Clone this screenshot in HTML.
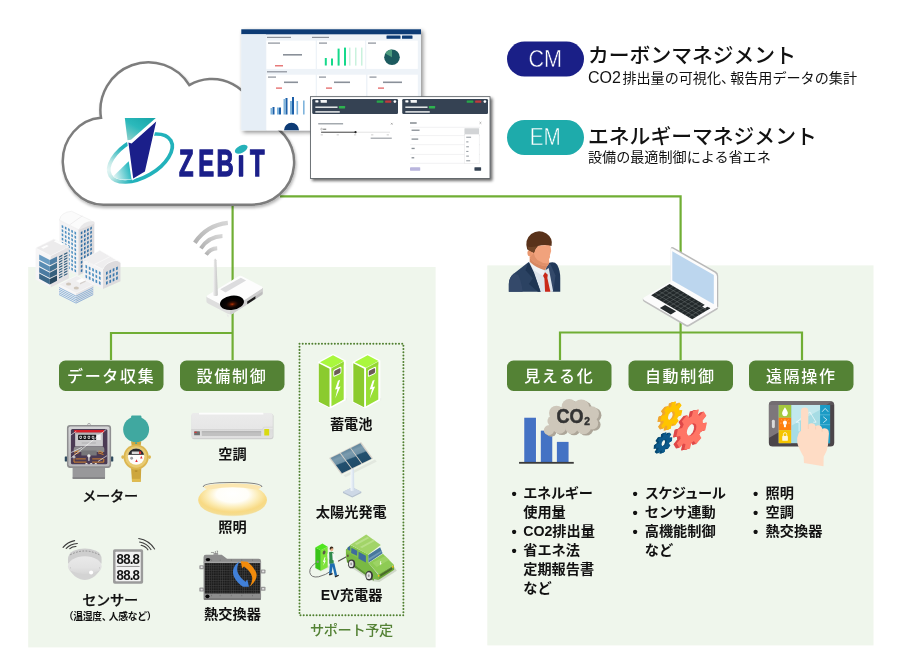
<!DOCTYPE html>
<html lang="ja">
<head>
<meta charset="utf-8">
<title>ZEBiT</title>
<style>
html,body{margin:0;padding:0;background:#fff;}
body{width:900px;height:662px;overflow:hidden;position:relative;font-family:"Liberation Sans","Noto Sans CJK JP",sans-serif;}
svg{position:absolute;left:0;top:0;display:block;will-change:transform;}
text{font-family:"Liberation Sans","Noto Sans CJK JP",sans-serif;}
.lbl{font-size:16px;font-weight:500;fill:#fff;letter-spacing:1.7px;text-anchor:middle;}
.cap{font-size:14.2px;font-weight:bold;fill:#111;text-anchor:middle;}
.li{font-size:14.2px;font-weight:bold;fill:#111;}
.ttl{font-size:20.8px;fill:#111;font-weight:500;}
.sub{font-size:14.1px;fill:#111;}
.bdg{font-size:24.8px;fill:#fff;text-anchor:middle;}
</style>
</head>
<body>
<svg width="900" height="662" viewBox="0 0 900 662">
<defs>
<filter id="sh" x="-10%" y="-10%" width="125%" height="130%"><feGaussianBlur in="SourceAlpha" stdDeviation="2"/><feOffset dx="2" dy="2"/><feComponentTransfer><feFuncA type="linear" slope="0.45"/></feComponentTransfer><feMerge><feMergeNode/><feMergeNode in="SourceGraphic"/></feMerge></filter>
<filter id="sh2" x="-10%" y="-15%" width="125%" height="140%"><feGaussianBlur in="SourceAlpha" stdDeviation="1.6"/><feOffset dx="1.5" dy="2"/><feComponentTransfer><feFuncA type="linear" slope="0.6"/></feComponentTransfer><feMerge><feMergeNode/><feMergeNode in="SourceGraphic"/></feMerge></filter>
<filter id="sh3" x="-10%" y="-10%" width="125%" height="130%"><feGaussianBlur in="SourceAlpha" stdDeviation="1.6"/><feOffset dx="1.2" dy="1.6"/><feComponentTransfer><feFuncA type="linear" slope="0.3"/></feComponentTransfer><feMerge><feMergeNode/><feMergeNode in="SourceGraphic"/></feMerge></filter>
</defs>
<!-- panels -->
<rect id="panelL" x="28.2" y="267" width="407.400" height="380.400" fill="#eff6ec"/>
<rect id="panelR" x="487.3" y="265.400" width="386.200" height="380" fill="#eff6ec"/>
<!-- connectors -->
<g id="lines" fill="none" stroke="#70ae34" stroke-width="2.2">
<path d="M232.6 205V360"/>
<path d="M111 360V333H232.600"/>
<path d="M280 196.400H680.600V360"/>
<path d="M560 360V332.500H802V360"/>
</g>
<!-- cloud -->
<g id="cloud" filter="url(#sh3)">
<path d="M103.5 204.700 A41 43.500 0 0 1 101 117.800 A48 48 0 0 1 189.300 85.150 A45 45 0 0 1 256.830 120.050 A42.500 42.500 0 0 1 250 204.700 Z" fill="#fff" stroke="#7d7d7d" stroke-width="2.500"/>
</g>
<!-- logo -->
<g id="logo">
<defs>
<radialGradient id="ring" gradientUnits="userSpaceOnUse" cx="105.9" cy="151.9" r="26"><stop offset="0" stop-color="#e6f6f5"/><stop offset="0.35" stop-color="#bfe8e6"/><stop offset="0.75" stop-color="#5cc6ca"/><stop offset="1" stop-color="#22b2bb"/></radialGradient>
<linearGradient id="tealTop" x1="0.9" y1="0" x2="0.1" y2="1"><stop offset="0" stop-color="#17a5a8"/><stop offset="0.5" stop-color="#2bb9bb"/><stop offset="1" stop-color="#8fd0cb"/></linearGradient>
<linearGradient id="tealBot" x1="1" y1="0.5" x2="0" y2="0.8"><stop offset="0" stop-color="#1fb5bd"/><stop offset="1" stop-color="#e9f7f6"/></linearGradient>
</defs>
<g transform="rotate(-30 140.5 158)"><ellipse cx="140.5" cy="158" rx="35" ry="19" fill="none" stroke="url(#ring)" stroke-width="3.700"/></g>
<path d="M113 176.400 L128.700 161.300 L131.500 179 Q120 181 113 176.400Z" fill="url(#tealBot)"/>
<path d="M124.3 117.400H157V121L145.500 172L133 179.300L127.800 143L126.800 140.500Z" fill="#fff"/>
<path d="M124.8 117.900H155.800L131 139.800L127.500 140.300Z" fill="url(#tealTop)" stroke="#fff" stroke-width="1" paint-order="stroke"/>
<path d="M156.2 121.500L144.900 171.600L133.200 178.600L128.400 142.600L131.600 143.400Z" fill="#1b1f8a" stroke="#fff" stroke-width="2.200" stroke-linejoin="miter" paint-order="stroke"/>
<text id="zebit" transform="translate(0 175.700) scale(0.63 1)" font-size="37.800" font-weight="bold" fill="#1b1f8a" stroke="#1b1f8a" stroke-width="1.100" vector-effect="non-scaling-stroke" x="284 314.500 343.800 377.200 396.800" y="0">ZEBiT</text>
<rect x="237" y="146" width="8" height="8.200" fill="#fff"/>
<rect x="238.800" y="155.500" width="4.400" height="20.500" fill="#1b1f8a"/>
<ellipse cx="241.2" cy="149.200" rx="6.900" ry="3.700" fill="#25b1b9" transform="rotate(-27 241.200 149.200)"/>
</g>
<!-- dashboards -->
<g id="dash1" filter="url(#sh)">
<rect x="241.3" y="29.300" width="179.700" height="101" fill="#eef3f8"/>
<rect x="241.3" y="29.300" width="179.700" height="5" fill="#0b3a75"/>
<rect x="241.3" y="34.300" width="24.600" height="96" fill="#e6eef6"/>
<rect x="266.4" y="40.600" width="49.300" height="28.300" fill="#fff"/>
<rect x="317" y="40.600" width="48" height="28.300" fill="#fff"/>
<rect x="366.3" y="40.600" width="51.500" height="28.300" fill="#fff"/>
<rect x="266.4" y="74.700" width="49.300" height="55.600" fill="#fff"/>
<rect x="317" y="74.700" width="49" height="55.600" fill="#fff"/>
<rect x="367.5" y="74.700" width="50.300" height="55.600" fill="#fff"/>
<g fill="#17d98b"><rect x="324.8" y="58" width="2" height="7.500"/><rect x="331" y="58.500" width="2" height="7"/><rect x="337.6" y="48.600" width="2" height="17"/><rect x="344" y="47.600" width="2" height="18"/></g>
<g fill="#c9f2dd"><rect x="349" y="47.600" width="1.500" height="18"/><rect x="355" y="47.600" width="1.500" height="18"/><rect x="361" y="47.600" width="1.500" height="18"/></g>
<circle cx="392" cy="57.200" r="7.800" fill="#1e5a5e"/>
<path d="M392 57.200V49.400A7.800 7.800 0 0 0 385.200 53.400Z" fill="#4e9c7f"/>
<g fill="#1f5fa8"><rect x="272.5" y="107" width="2" height="7.500"/><rect x="279" y="107.500" width="2" height="7"/><rect x="285.5" y="98" width="2" height="16.500"/><rect x="292" y="97" width="2" height="17.500"/></g>
<g fill="#7fb4dc"><rect x="270.5" y="108" width="2" height="6.500"/><rect x="277" y="107.500" width="2" height="7"/><rect x="283.5" y="99" width="2" height="15.500"/><rect x="290" y="101" width="2" height="13.500"/><rect x="296.5" y="101" width="1.600" height="13.500"/><rect x="303" y="100.500" width="1.600" height="14"/></g>
<g fill="#8a9099"><rect x="283" y="54" width="19" height="1.600"/><rect x="268" y="42.500" width="12" height="1.200"/><rect x="268" y="76.500" width="8" height="1.200"/><rect x="284" y="81.500" width="14" height="1.600"/><rect x="267" y="71.200" width="20" height="1.200"/><rect x="267" y="36.800" width="24" height="1.200"/><rect x="312" y="36.800" width="17" height="1.200"/><rect x="319" y="42.500" width="8" height="1.200"/><rect x="368" y="42.500" width="8" height="1.200"/><rect x="334" y="81.500" width="16" height="1.600"/><rect x="383" y="81.500" width="19" height="1.600"/><rect x="319" y="76.500" width="7" height="1.200"/><rect x="369.5" y="76.500" width="7" height="1.200"/></g>
<g fill="#e25a5a"><rect x="275" y="65.200" width="8" height="1.200"/><rect x="276" y="87.500" width="6" height="1.200"/><rect x="326" y="87.500" width="6" height="1.200"/><rect x="378" y="87.500" width="6" height="1.200"/></g>
<g fill="#0b3a75"><rect x="386.5" y="35.600" width="14" height="3.200" rx="0.500"/><rect x="402" y="35.600" width="10.500" height="3.200" rx="0.500"/><path d="M284 130.300a7.500 7.500 0 0 1 15 0Z"/></g>
</g>

<!-- label boxes -->
<g id="labels" fill="#548235">
<rect x="59" y="360.5" width="104.500" height="30.500" rx="6.500"/>
<rect x="180" y="360.5" width="104.500" height="30.500" rx="6.500"/>
<rect x="507" y="360.5" width="104.500" height="30.500" rx="6.500"/>
<rect x="628.500" y="360.500" width="104.500" height="30.500" rx="6.500"/>
<rect x="749" y="360.5" width="104.500" height="30.500" rx="6.500"/>
</g>
<text class="lbl" x="111.200" y="382">データ収集</text>
<text class="lbl" x="232" y="382">設備制御</text>
<text class="lbl" x="559.300" y="382">見える化</text>
<text class="lbl" x="680.300" y="382">自動制御</text>
<text class="lbl" x="801.300" y="382">遠隔操作</text>
<!-- dotted box -->
<rect id="dotbox" x="299.5" y="343.800" width="103.900" height="271.500" fill="none" stroke="#4f7f2f" stroke-width="2" stroke-linecap="round" stroke-dasharray="0.010 3.200"/>
<!-- captions -->
<g id="captions">
<text class="cap" x="110" y="500.500" style="font-weight:500" letter-spacing="-0.3" stroke="#111" stroke-width="0.250">メーター</text>
<text class="cap" x="110" y="604.800" style="font-weight:500" letter-spacing="-0.3" stroke="#111" stroke-width="0.250">センサー</text>
<text class="cap" x="110" y="619.600" style="font-size:9.800px;font-weight:bold" letter-spacing="-0.25">（温湿度<tspan letter-spacing="-3">、</tspan>人感など）</text>
<text class="cap" x="232.4" y="458.5">空調</text>
<text class="cap" x="232.4" y="532.0">照明</text>
<text class="cap" x="232.5" y="618.7">熱交換器</text>
<text class="cap" x="351.2" y="428.5">蓄電池</text>
<text class="cap" x="351.3" y="517.2">太陽光発電</text>
<text class="cap" x="351.6" y="600.2">EV充電器</text>
<text class="cap" x="351.4" y="634.800" style="fill:#548235;font-weight:500" letter-spacing="-0.4">サポート予定</text>
</g>
<g id="lists">
<text class="li" y="497.800"><tspan x="511.4" dy="0.8" font-size="15">•</tspan><tspan dy="-0.8" x="523.2" letter-spacing="-0.3">エネルギー</tspan></text>
<text class="li" x="523.2" y="516.900">使用量</text>
<text class="li" y="536"><tspan x="511.4" dy="0.8" font-size="15">•</tspan><tspan dy="-0.8" x="523.2">CO2排出量</tspan></text>
<text class="li" y="555.100"><tspan x="511.4" dy="0.8" font-size="15">•</tspan><tspan dy="-0.8" x="523.2">省エネ法</tspan></text>
<text class="li" x="523.2" y="574.200">定期報告書</text>
<text class="li" x="523.2" y="593.300">など</text>
<text class="li" y="497.800"><tspan x="632.6" dy="0.8" font-size="15">•</tspan><tspan dy="-0.8" x="644.7" letter-spacing="-0.6">スケジュール</tspan></text>
<text class="li" y="516.900"><tspan x="632.6" dy="0.8" font-size="15">•</tspan><tspan dy="-0.8" x="644.7">センサ連動</tspan></text>
<text class="li" y="536"><tspan x="632.6" dy="0.8" font-size="15">•</tspan><tspan dy="-0.8" x="644.7">高機能制御</tspan></text>
<text class="li" x="644.7" y="555.100">など</text>
<text class="li" y="497.800"><tspan x="753.0" dy="0.8" font-size="15">•</tspan><tspan dy="-0.8" x="765.6">照明</tspan></text>
<text class="li" y="516.900"><tspan x="753.0" dy="0.8" font-size="15">•</tspan><tspan dy="-0.8" x="765.6">空調</tspan></text>
<text class="li" y="536"><tspan x="753.0" dy="0.8" font-size="15">•</tspan><tspan dy="-0.8" x="765.6">熱交換器</tspan></text>
</g>
<!-- badges -->
<rect x="507" y="41.5" width="77" height="35" rx="17.5" fill="#1a1f87"/>
<text class="bdg" x="545.300" y="66.700" textLength="33.600" lengthAdjust="spacingAndGlyphs" stroke="#1a1f87" stroke-width="0.500">CM</text>
<rect x="507" y="120" width="77" height="35" rx="17.5" fill="#1eabab"/>
<text class="bdg" x="545.300" y="145.300" textLength="31" lengthAdjust="spacingAndGlyphs" stroke="#1eabab" stroke-width="0.500">EM</text>
<text class="ttl" x="588" y="62.5">カーボンマネジメント</text>
<text class="sub" x="588" y="82.5"><tspan font-size="16">CO2</tspan><tspan dx="1.5">排</tspan>出量の可視化<tspan letter-spacing="-5">、</tspan>報告用データの集計</text>
<text class="ttl" x="588" y="144">エネルギーマネジメント</text>
<text class="sub" x="588" y="161.5">設備の最適制御による省エネ</text>
<!-- 05_dash2 -->
<g id="dash2" filter="url(#sh2)">
<rect x="310.44" y="96.67" width="179.56" height="81.78" rx="0.00" fill="#ffffff" stroke="#50555a" stroke-width="0.8"/>
<rect x="312.22" y="98.89" width="85.78" height="15.11" rx="1.33" fill="#344352" />
<rect x="315.33" y="100.22" width="3.11" height="2.22" rx="0.44" fill="#ffffff" />
<rect x="320.67" y="100.00" width="6.22" height="2.67" rx="0.22" fill="#ffffff" fill-opacity="0.95"/>
<rect x="315.33" y="106.44" width="22.22" height="1.56" rx="0.00" fill="#ffffff" fill-opacity="0.85"/>
<rect x="338.89" y="106.00" width="6.22" height="2.44" rx="0.44" fill="#2fb24f" />
<rect x="315.33" y="111.11" width="24.44" height="1.56" rx="0.00" fill="#ffffff" fill-opacity="0.85"/>
<rect x="376.67" y="100.44" width="6.67" height="2.22" rx="0.44" fill="#27a84a" />
<rect x="385.11" y="100.44" width="6.22" height="2.22" rx="0.44" fill="#c2383c" />
<ellipse cx="394.89" cy="101.56" rx="1.33" ry="1.33" fill="#ffffff" />
<rect x="402.22" y="98.89" width="85.78" height="15.11" rx="1.33" fill="#344352" />
<rect x="405.33" y="100.22" width="3.11" height="2.22" rx="0.44" fill="#ffffff" />
<rect x="410.67" y="100.00" width="6.22" height="2.67" rx="0.22" fill="#ffffff" fill-opacity="0.95"/>
<rect x="405.33" y="106.44" width="22.22" height="1.56" rx="0.00" fill="#ffffff" fill-opacity="0.85"/>
<rect x="428.89" y="106.00" width="6.22" height="2.44" rx="0.44" fill="#2fb24f" />
<rect x="405.33" y="111.11" width="24.44" height="1.56" rx="0.00" fill="#ffffff" fill-opacity="0.85"/>
<rect x="466.67" y="100.44" width="6.67" height="2.22" rx="0.44" fill="#27a84a" />
<rect x="475.11" y="100.44" width="6.22" height="2.22" rx="0.44" fill="#c2383c" />
<ellipse cx="484.89" cy="101.56" rx="1.33" ry="1.33" fill="#ffffff" />
<rect x="318.22" y="123.11" width="24.89" height="1.33" rx="0.00" fill="#9aa0a6" />
<path d="M 390.89 122.89 L 392.67 124.67 M 392.67 122.89 L 390.89 124.67" fill="none" stroke="#555" stroke-width="0.4"/>
<path d="M 321.11 132.22 H 390" fill="none" stroke="#b8b8b8" stroke-width="0.4"/>
<path d="M 321.11 132.22 H 355.56" fill="none" stroke="#222" stroke-width="0.8"/>
<ellipse cx="355.56" cy="132.22" rx="1.11" ry="1.11" fill="#222" />
<ellipse cx="321.56" cy="129.11" rx="0.89" ry="0.89" fill="none" stroke="#444" stroke-width="0.3"/>
<rect x="323.11" y="128.67" width="3.11" height="1.11" rx="0.00" fill="#777" />
<rect x="320.67" y="134.44" width="2.22" height="0.89" rx="0.00" fill="#c4c4c4" />
<rect x="336.67" y="134.44" width="2.22" height="0.89" rx="0.00" fill="#c4c4c4" />
<rect x="354.00" y="134.44" width="2.22" height="0.89" rx="0.00" fill="#c4c4c4" />
<rect x="371.11" y="134.44" width="2.22" height="0.89" rx="0.00" fill="#c4c4c4" />
<rect x="386.67" y="134.44" width="2.22" height="0.89" rx="0.00" fill="#c4c4c4" />
<rect x="370.67" y="137.56" width="21.11" height="1.33" rx="0.00" fill="#a8acb0" />
<rect x="410.00" y="122.22" width="6.67" height="1.56" rx="0.00" fill="#8a9096" />
<path d="M 479.56 122 L 481.33 123.78 M 481.33 122 L 479.56 123.78" fill="none" stroke="#555" stroke-width="0.4"/>
<path d="M 410 135.56 H 480 M 410 144.67 H 480 M 410 154.44 H 480 M 410 163.33 H 480 M 410 127.33 H 480" fill="none" stroke="#d8dadd" stroke-width="0.35"/>
<rect x="411.56" y="129.56" width="8.00" height="1.33" rx="0.00" fill="#8a9096" />
<rect x="411.56" y="138.44" width="6.67" height="1.33" rx="0.00" fill="#8a9096" />
<rect x="411.56" y="147.78" width="3.11" height="1.33" rx="0.00" fill="#8a9096" />
<rect x="411.56" y="157.11" width="2.67" height="1.33" rx="0.00" fill="#8a9096" />
<rect x="464.44" y="128.22" width="14.67" height="5.78" rx="0.44" fill="#d2d4d6" />
<rect x="464.44" y="134.44" width="14.67" height="29.33" rx="0.00" fill="#ffffff" stroke="#cfd2d5" stroke-width="0.3"/>
<rect x="466.22" y="136.67" width="4.89" height="1.11" rx="0.00" fill="#9aa0a6" />
<rect x="466.22" y="141.33" width="2.22" height="1.11" rx="0.00" fill="#9aa0a6" />
<rect x="466.22" y="146.22" width="2.67" height="1.11" rx="0.00" fill="#9aa0a6" />
<rect x="466.22" y="150.89" width="2.22" height="1.11" rx="0.00" fill="#9aa0a6" />
<rect x="466.22" y="155.56" width="2.67" height="1.11" rx="0.00" fill="#9aa0a6" />
<rect x="466.22" y="160.22" width="4.00" height="1.11" rx="0.00" fill="#9aa0a6" />
<rect x="410.00" y="167.33" width="10.22" height="3.33" rx="0.44" fill="#b9b5dd" />
<rect x="474.44" y="167.33" width="6.67" height="3.33" rx="0.44" fill="#344352" />
</g>
<!-- 10_buildings -->
<g id="buildings">
<polygon points="59.4,220.1 78.4,229.6 78.4,275.6 59.4,266.9" fill="#f4f3f4" />
<polygon points="78.4,229.6 94.3,221.7 94.3,267.7 78.4,275.6" fill="#dcdadc" />
<path d="M59.4 220.1 Q61.0 212.1 71.6 211.3 L90.3 220.1 L94.3 223.7 Q93.5 220.9 78.4 229.6 Z" fill="#fbfbfb" stroke="#e4e2e4" stroke-width="0.4"/>
<path d="M78.4 230.1 Q82.4 220.9 93.5 220.9 L94.3 223.7 Z" fill="#e9e8e9"/>
<path d="M69.7 224.8 L82.4 215.8" stroke="#e0dfe0" stroke-width="0.5" fill="none"/>
<path d="M61.7 224.9L63.3 225.7L63.3 228.2L61.7 227.4ZM64.9 226.5L66.5 227.3L66.5 229.8L64.9 229.0ZM68.1 228.1L69.7 228.9L69.7 231.5L68.1 230.6ZM71.3 229.7L72.9 230.5L72.9 233.1L71.3 232.3ZM74.5 231.3L76.1 232.2L76.1 234.7L74.5 233.9ZM61.7 229.1L63.3 229.9L63.3 232.4L61.7 231.6ZM64.9 230.7L66.5 231.5L66.5 234.0L64.9 233.2ZM68.1 232.3L69.7 233.1L69.7 235.6L68.1 234.8ZM71.3 233.9L72.9 234.7L72.9 237.2L71.3 236.4ZM74.5 235.5L76.1 236.3L76.1 238.9L74.5 238.1ZM61.7 233.3L63.3 234.1L63.3 236.6L61.7 235.8ZM64.9 234.9L66.5 235.7L66.5 238.2L64.9 237.4ZM68.1 236.5L69.7 237.3L69.7 239.8L68.1 239.0ZM71.3 238.1L72.9 238.9L72.9 241.4L71.3 240.6ZM74.5 239.7L76.1 240.5L76.1 243.0L74.5 242.2ZM61.7 237.5L63.3 238.3L63.3 240.8L61.7 240.0ZM64.9 239.1L66.5 239.9L66.5 242.4L64.9 241.6ZM68.1 240.7L69.7 241.5L69.7 244.0L68.1 243.2ZM71.3 242.3L72.9 243.1L72.9 245.6L71.3 244.8ZM74.5 243.9L76.1 244.7L76.1 247.2L74.5 246.4ZM61.7 241.7L63.3 242.5L63.3 245.0L61.7 244.2ZM64.9 243.3L66.5 244.1L66.5 246.6L64.9 245.8ZM68.1 244.9L69.7 245.7L69.7 248.2L68.1 247.4ZM71.3 246.5L72.9 247.3L72.9 249.8L71.3 249.0ZM74.5 248.1L76.1 248.9L76.1 251.4L74.5 250.6ZM61.7 245.9L63.3 246.7L63.3 249.2L61.7 248.4ZM64.9 247.5L66.5 248.3L66.5 250.8L64.9 250.0ZM68.1 249.1L69.7 249.9L69.7 252.4L68.1 251.6ZM71.3 250.7L72.9 251.5L72.9 254.0L71.3 253.2ZM74.5 252.3L76.1 253.1L76.1 255.6L74.5 254.8ZM61.7 250.1L63.3 250.9L63.3 253.4L61.7 252.6ZM64.9 251.7L66.5 252.5L66.5 255.0L64.9 254.2ZM68.1 253.3L69.7 254.1L69.7 256.6L68.1 255.8ZM71.3 254.9L72.9 255.7L72.9 258.2L71.3 257.4ZM74.5 256.5L76.1 257.3L76.1 259.8L74.5 259.0ZM61.7 254.3L63.3 255.1L63.3 257.6L61.7 256.8ZM64.9 255.9L66.5 256.7L66.5 259.2L64.9 258.4ZM68.1 257.5L69.7 258.3L69.7 260.8L68.1 260.0ZM71.3 259.1L72.9 259.9L72.9 262.4L71.3 261.6ZM74.5 260.7L76.1 261.5L76.1 264.0L74.5 263.2ZM61.7 258.4L63.3 259.2L63.3 261.8L61.7 261.0ZM64.9 260.1L66.5 260.9L66.5 263.4L64.9 262.6ZM68.1 261.7L69.7 262.5L69.7 265.0L68.1 264.2ZM71.3 263.3L72.9 264.1L72.9 266.6L71.3 265.8ZM74.5 264.9L76.1 265.7L76.1 268.2L74.5 267.4ZM61.7 262.6L63.3 263.4L63.3 266.0L61.7 265.2ZM64.9 264.2L66.5 265.0L66.5 267.6L64.9 266.8ZM68.1 265.8L69.7 266.7L69.7 269.2L68.1 268.4ZM71.3 267.5L72.9 268.3L72.9 270.8L71.3 270.0ZM74.5 269.1L76.1 269.9L76.1 272.4L74.5 271.6Z" fill="#4d8fc0"/>
<path d="M80.8 232.1L82.4 231.3L82.4 233.8L80.8 234.6ZM84.0 230.5L85.6 229.7L85.6 232.2L84.0 233.0ZM87.1 228.9L88.7 228.2L88.7 230.7L87.1 231.5ZM90.3 227.4L91.8 226.6L91.8 229.1L90.3 229.9ZM80.8 236.3L82.4 235.5L82.4 238.0L80.8 238.8ZM84.0 234.7L85.6 233.9L85.6 236.4L84.0 237.2ZM87.1 233.1L88.7 232.3L88.7 234.9L87.1 235.6ZM90.3 231.6L91.8 230.8L91.8 233.3L90.3 234.1ZM80.8 240.5L82.4 239.7L82.4 242.2L80.8 243.0ZM84.0 238.9L85.6 238.1L85.6 240.6L84.0 241.4ZM87.1 237.3L88.7 236.5L88.7 239.0L87.1 239.8ZM90.3 235.7L91.8 235.0L91.8 237.5L90.3 238.3ZM80.8 244.7L82.4 243.9L82.4 246.4L80.8 247.2ZM84.0 243.1L85.6 242.3L85.6 244.8L84.0 245.6ZM87.1 241.5L88.7 240.7L88.7 243.2L87.1 244.0ZM90.3 239.9L91.8 239.2L91.8 241.7L90.3 242.5ZM80.8 248.8L82.4 248.1L82.4 250.6L80.8 251.4ZM84.0 247.3L85.6 246.5L85.6 249.0L84.0 249.8ZM87.1 245.7L88.7 244.9L88.7 247.4L87.1 248.2ZM90.3 244.1L91.8 243.3L91.8 245.9L90.3 246.6ZM80.8 253.0L82.4 252.2L82.4 254.8L80.8 255.5ZM84.0 251.5L85.6 250.7L85.6 253.2L84.0 254.0ZM87.1 249.9L88.7 249.1L88.7 251.6L87.1 252.4ZM90.3 248.3L91.8 247.5L91.8 250.0L90.3 250.8ZM80.8 257.2L82.4 256.4L82.4 259.0L80.8 259.7ZM84.0 255.7L85.6 254.9L85.6 257.4L84.0 258.2ZM87.1 254.1L88.7 253.3L88.7 255.8L87.1 256.6ZM90.3 252.5L91.8 251.7L91.8 254.2L90.3 255.0ZM80.8 261.4L82.4 260.6L82.4 263.1L80.8 263.9ZM84.0 259.8L85.6 259.1L85.6 261.6L84.0 262.4ZM87.1 258.3L88.7 257.5L88.7 260.0L87.1 260.8ZM90.3 256.7L91.8 255.9L91.8 258.4L90.3 259.2ZM80.8 265.6L82.4 264.8L82.4 267.3L80.8 268.1ZM84.0 264.0L85.6 263.2L85.6 265.8L84.0 266.5ZM87.1 262.5L88.7 261.7L88.7 264.2L87.1 265.0ZM90.3 260.9L91.8 260.1L91.8 262.6L90.3 263.4ZM80.8 269.8L82.4 269.0L82.4 271.5L80.8 272.3ZM84.0 268.2L85.6 267.4L85.6 270.0L84.0 270.7ZM87.1 266.7L88.7 265.9L88.7 268.4L87.1 269.2ZM90.3 265.1L91.8 264.3L91.8 266.8L90.3 267.6Z" fill="#2f6da3"/>
<polygon points="83.2,259.8 103.0,269.3 103.0,289.1 83.2,279.6" fill="#f4f3f4" />
<path d="M103.0 289.1 L120.5 281.2 L120.5 262.9 L120.5 262.9 Q118.9 259.0 112.5 261.3 Q104.6 263.7 103.0 269.3Z" fill="#dddbdd"/>
<path d="M83.2 259.8 L99.8 250.2 L120.5 262.5 Q118.9 259.0 112.5 261.3 Q104.6 263.7 103.0 269.3 Z" fill="#efeeef" stroke="#fbfbfb" stroke-width="0.6"/>
<path d="M94.3 264.5 L111.0 256.1" stroke="#fbfbfb" stroke-width="0.7" fill="none"/>
<path d="M85.5 264.8L87.1 265.6L87.1 268.6L85.5 267.8ZM88.8 266.4L90.5 267.2L90.5 270.2L88.8 269.4ZM92.2 268.0L93.9 268.8L93.9 271.8L92.2 271.0ZM95.5 269.6L97.2 270.5L97.2 273.4L95.5 272.6ZM98.9 271.3L100.6 272.1L100.6 275.0L98.9 274.2ZM85.5 269.7L87.1 270.5L87.1 273.5L85.5 272.7ZM88.8 271.3L90.5 272.2L90.5 275.1L88.8 274.3ZM92.2 273.0L93.9 273.8L93.9 276.7L92.2 275.9ZM95.5 274.6L97.2 275.4L97.2 278.3L95.5 277.5ZM98.9 276.2L100.6 277.0L100.6 280.0L98.9 279.1ZM85.5 274.7L87.1 275.5L87.1 278.4L85.5 277.6ZM88.8 276.3L90.5 277.1L90.5 280.0L88.8 279.2ZM92.2 277.9L93.9 278.7L93.9 281.7L92.2 280.8ZM95.5 279.5L97.2 280.3L97.2 283.3L95.5 282.5ZM98.9 281.1L100.6 281.9L100.6 284.9L98.9 284.1Z" fill="#4d8fc0"/>
<path d="M106.0 272.0L107.7 271.2L107.7 274.1L106.0 274.9ZM109.4 270.4L111.1 269.6L111.1 272.6L109.4 273.4ZM112.7 268.8L114.4 268.1L114.4 271.0L112.7 271.8ZM116.1 267.3L117.8 266.5L117.8 269.4L116.1 270.2ZM106.0 276.9L107.7 276.1L107.7 279.1L106.0 279.9ZM109.4 275.3L111.1 274.5L111.1 277.5L109.4 278.3ZM112.7 273.8L114.4 273.0L114.4 275.9L112.7 276.7ZM116.1 272.2L117.8 271.4L117.8 274.4L116.1 275.2ZM106.0 281.8L107.7 281.0L107.7 284.0L106.0 284.8ZM109.4 280.3L111.1 279.5L111.1 282.4L109.4 283.2ZM112.7 278.7L114.4 277.9L114.4 280.9L112.7 281.6ZM116.1 277.1L117.8 276.3L117.8 279.3L116.1 280.1Z" fill="#3a78ad"/>
<polygon points="35.6,247.9 50.6,255.8 50.6,287.5 35.6,279.6" fill="#f6f5f6" />
<polygon points="50.6,255.8 68.9,246.6 68.9,278.3 50.6,287.5" fill="#e3e1e3" />
<polygon points="35.6,247.9 53.8,239.1 68.9,246.6 50.6,255.8" fill="#ecebec" stroke="#fafafa" stroke-width="0.6"/>
<polygon points="41.1,247.5 46.7,245.0 48.7,246.0 43.2,248.7" fill="#fdfdfd" />
<polygon points="53.8,241.2 56.2,240.1 64.1,244.0 61.7,245.2" fill="#fdfdfd" />
<polygon points="39.2,254.5 49.8,260.1 49.8,265.3 39.2,259.8" fill="#6a9cc2"/>
<polygon points="49.8,260.1 57.0,256.4 57.0,261.7 49.8,265.3" fill="#4f7fa5"/>
<polygon points="39.2,260.9 49.8,266.4 49.8,271.7 39.2,266.1" fill="#5a8cb3"/>
<polygon points="49.8,266.4 57.0,262.8 57.0,268.0 49.8,271.7" fill="#42708f"/>
<polygon points="39.2,267.2 49.8,272.8 49.8,278.0 39.2,272.5" fill="#4b7ba1"/>
<polygon points="49.8,272.8 57.0,269.1 57.0,274.4 49.8,278.0" fill="#36607d"/>
<polygon points="39.2,273.6 49.8,279.1 49.8,284.4 39.2,278.8" fill="#3c6888"/>
<polygon points="49.8,279.1 57.0,275.5 57.0,280.7 49.8,284.4" fill="#27485f"/>
<path d="M59.0 256.4L62.4 254.6L62.4 255.9L59.0 257.7ZM63.9 253.8L67.4 252.1L67.4 253.4L63.9 255.1ZM59.0 259.0L62.4 257.2L62.4 258.5L59.0 260.3ZM63.9 256.5L67.4 254.7L67.4 256.0L63.9 257.8ZM59.0 261.6L62.4 259.8L62.4 261.1L59.0 262.9ZM63.9 259.1L67.4 257.3L67.4 258.6L63.9 260.4ZM59.0 264.2L62.4 262.4L62.4 263.7L59.0 265.5ZM63.9 261.7L67.4 259.9L67.4 261.2L63.9 263.0ZM59.0 266.8L62.4 265.0L62.4 266.4L59.0 268.1ZM63.9 264.3L67.4 262.5L67.4 263.8L63.9 265.6ZM59.0 269.4L62.4 267.7L62.4 269.0L59.0 270.7ZM63.9 266.9L67.4 265.1L67.4 266.4L63.9 268.2ZM59.0 272.0L62.4 270.3L62.4 271.6L59.0 273.3ZM63.9 269.5L67.4 267.7L67.4 269.0L63.9 270.8ZM59.0 274.7L62.4 272.9L62.4 274.2L59.0 276.0ZM63.9 272.1L67.4 270.3L67.4 271.6L63.9 273.4ZM59.0 277.3L62.4 275.5L62.4 276.8L59.0 278.6ZM63.9 274.7L67.4 272.9L67.4 274.3L63.9 276.0Z" fill="#35607f"/>
<polygon points="58.6,284.4 76.0,293.1 76.0,303.7 58.6,295.0" fill="#f6f5f6" />
<polygon points="76.0,293.1 93.5,284.4 93.5,295.0 76.0,303.7" fill="#e6e4e6" />
<polygon points="58.6,284.4 76.8,275.6 93.5,284.4 76.0,293.1" fill="#efeeef" stroke="#fbfbfb" stroke-width="0.6"/>
<path d="M59.0 287.5L76.0 296.1L93.2 287.5" fill="none" stroke="#7aa7d0" stroke-width="0.8"/>
<path d="M59.0 289.3L76.0 297.9L93.2 289.3" fill="none" stroke="#7aa7d0" stroke-width="0.8"/>
<path d="M59.0 291.0L76.0 299.6L93.2 291.0" fill="none" stroke="#7aa7d0" stroke-width="0.8"/>
<path d="M59.0 292.8L76.0 301.3L93.2 292.8" fill="none" stroke="#7aa7d0" stroke-width="0.8"/>
<path d="M59.0 294.5L76.0 303.1L93.2 294.5" fill="none" stroke="#7aa7d0" stroke-width="0.8"/>
<ellipse cx="68.6" cy="283.9" rx="2.6" ry="1.5" fill="#cfc6bb"/>
<ellipse cx="76.3" cy="287.9" rx="2.6" ry="1.5" fill="#cfc6bb"/>
<polygon points="76.0,280.9 81.6,278.3 85.6,280.4 80.0,283.1" fill="#fdfdfd" />
<polygon points="80.0,283.1 85.6,280.4 85.6,281.7 80.0,284.4" fill="#d5d0cc" />
</g>
<!-- 20_router -->
<g id="router">
<defs><radialGradient id="rtLed" cx="0.5" cy="0.6" r="0.5"><stop offset="0" stop-color="#f2600c"/><stop offset="0.07" stop-color="#8a2404"/><stop offset="0.25" stop-color="#3a1003"/><stop offset="0.5" stop-color="#0c0504"/><stop offset="1" stop-color="#000"/></radialGradient><linearGradient id="rtAnt" x1="0" x2="1"><stop offset="0" stop-color="#f6f6f6"/><stop offset="0.5" stop-color="#d9d9d9"/><stop offset="1" stop-color="#c4c4c4"/></linearGradient><linearGradient id="wifiG" x1="0" y1="1" x2="1" y2="0"><stop offset="0" stop-color="#b2b2b2"/><stop offset="1" stop-color="#d6d6d6"/></linearGradient></defs>
<path d="M 194.84 242.78 Q 206.43 225.32 227.86 222.94" fill="none" stroke="url(#wifiG)" stroke-width="4.2"/>
<path d="M 200.87 248.33 Q 208.81 236.43 222.46 235.95" fill="none" stroke="url(#wifiG)" stroke-width="4.0"/>
<path d="M 206.11 254.68 Q 210.08 248.65 217.22 248.33" fill="none" stroke="url(#wifiG)" stroke-width="4.0"/>
<path d="M 206.43 296.27 L 206.43 301.51 Q 206.43 302.62 208.02 303.41 L 227.86 313.73 Q 230.24 315 232.62 313.73 L 261.51 295.16 Q 262.78 294.37 262.78 293.1 L 262.78 287.7 L 230.24 308.97 Z" fill="#dedede" />
<path d="M 230.24 308.97 L 262.78 287.7 L 262.78 293.1 Q 262.78 294.37 261.51 295.16 L 232.62 313.73 Q 231.35 314.37 230.24 314.37 Z" fill="#cfcfcf" />
<path d="M 207.54 295.16 L 238.17 276.43 Q 240.08 275.32 242.14 276.27 L 261.83 286.43 Q 263.41 287.38 261.83 288.65 L 231.98 308.33 Q 230.24 309.44 228.17 308.33 L 207.54 297.54 Q 205.63 296.43 207.54 295.16 Z" fill="#fdfdfd" />
<path d="M 220.24 289.29 L 240.87 277.7 L 246.11 280.4 L 225.48 292.46 Z" fill="#dcdcde" />
<path d="M 247.22 301.51 L 255.63 295.95 L 255.63 298.81 L 247.22 304.37 Z" fill="#1a1a1a" />
<path d="M 255.63 295.95 L 262.46 291.51 L 262.46 294.37 L 255.63 298.81 Z" fill="#bdbdbd" />
<path d="M 213.89 260.24 Q 215.16 256.59 216.43 260.24 L 217.86 295.16 Q 215.48 296.9 212.94 295.16 Z" fill="url(#rtAnt)" />
<ellipse cx="231.98" cy="302.78" rx="12.06" ry="7.14" fill="url(#rtLed)" transform="rotate(-8 231.98 302.78)" />
<path d="M 226.59 314.21 L 228.65 315.32 L 228.65 317.38 L 227.54 316.59 Z" fill="#e8e8e8" />
</g>
<!-- 30_person -->
<g id="person">
<path d="M 548.7 262.94 Q 554.37 261.02 557.2 264.64 Q 560.26 270.31 560.26 278.23 L 560.26 291.83 L 552.67 291.83 L 545.31 270.31 Z" fill="#22395a" />
<path d="M 546.66 267.13 L 549.84 262.94 Q 553.23 270.31 555.5 275.4 L 553.23 291.83 L 551.53 291.83 Z" fill="#33496a" />
<path d="M 528.88 261.47 L 533.98 264.08 L 545.31 270.31 L 548.7 268.04 L 553.23 291.83 L 539.64 291.83 Z" fill="#dde5ec" />
<path d="M 528.88 261.47 L 533.98 264.64 L 544.74 270.87 L 543.04 275.97 L 533.98 270.31 Z" fill="#eef2f6" />
<path d="M 529.67 257.85 L 529.67 261.81 Q 536.24 268.04 544.74 270.31 L 548.14 264.64 L 547.57 258.98 Z" fill="#d78762" />
<path d="M 543.04 275.74 L 545.08 272.34 L 547.8 274.84 L 547.34 278.01 L 550.4 291.83 L 545.08 291.83 L 544.4 278.46 Z" fill="#c9281a" />
<path d="M 528.32 262.15 L 513.59 273.7 Q 508.83 277.67 508.83 283.9 L 508.83 291.83 L 540.55 291.83 L 533.98 273.7 Z" fill="#2b4262" />
<path d="M 528.32 262.15 L 525.48 270.31 L 532.85 278.23 L 528.88 283.9 L 537.94 291.83 L 540.55 291.83 L 533.98 272.57 L 529.22 262.38 Z" fill="#1f3553" />
<path d="M 513.59 273.7 Q 508.83 277.67 508.83 283.9 L 508.83 291.83 L 522.65 291.83 Q 521.52 281.63 518.12 274.84 Z" fill="#34496a" />
<path d="M 533.98 245.95 Q 529.45 251.05 529.67 257.85 Q 533.98 264.64 545.31 266 Q 548.7 265.77 549.27 262.38 L 548.93 258.98 Q 550.4 257.85 549.84 255.58 L 551.19 251.05 Q 550.97 246.52 549.84 244.82 Z" fill="#f1a27c" />
<path d="M 529.67 257.85 Q 533.98 264.64 545.31 266 Q 548.14 265.77 549.04 263.51 Q 543.04 264.08 537.38 260.11 Q 533.98 257.28 533.98 252.18 Z" fill="#e0906a" />
<ellipse cx="529.67" cy="253.09" rx="2.27" ry="3.17" fill="#e9976f" />
<path d="M 527.18 249.35 Q 524.35 239.72 531.15 234.06 Q 538.51 228.96 546.44 233.49 Q 553.23 238.03 551.53 245.95 Q 545.31 244.25 537.94 245.95 Q 535.68 247.65 533.98 252.75 Q 531.71 251.62 529.67 250.48 Q 528.09 249.92 527.18 249.35 Z" fill="#59321a" />
<path d="M 527.75 246.52 Q 531.71 247.65 536.81 246.29 Q 535.34 248.22 533.98 252.75 Q 530.58 251.28 527.75 249.69 Z" fill="#6e4326" />
</g>
<!-- 31_laptop -->
<g id="laptop">
<path d="M 642.84 298.61 L 642.84 300.12 Q 642.84 301.18 644.35 301.93 L 685.14 326.1 Q 687.4 327.31 689.67 326.1 L 716.86 309.79 Q 717.92 309.03 717.92 307.98 L 717.92 306.47 L 687.4 324.59 Z" fill="#bfbfbf" />
<path d="M 643.9 297.4 L 670.79 281.54 L 717.92 306.47 L 717.92 307.22 L 689.21 324.29 Q 687.4 325.35 685.59 324.29 L 643.9 300.12 Q 642.08 298.76 643.9 297.4 Z" fill="#fbfbfb" />
<path d="M 670.79 281.54 L 670.79 248.76 Q 670.79 246.04 673.2 247.25 L 715.8 271.42 Q 718.22 272.93 718.22 275.65 L 718.22 307.22 Z" fill="#b9b9b9" />
<path d="M 670.48 281.99 L 670.48 249.97 Q 670.48 247.55 672.6 248.61 L 714.89 272.63 Q 717.01 273.99 717.01 276.56 L 717.01 307.67 Z" fill="#fcfcfc" />
<path d="M 672.3 251.33 L 713.84 275.05 L 713.84 304.2 L 672.3 280.48 Z" fill="#bcd6ee" />
<path d="M 651.15 295.14 L 669.58 284.11 L 710.36 308.28 L 692.24 319.31 Z" fill="#22282a" />
<path d="M 654.83 292.93 L 695.86 317.1 M 658.52 290.73 L 699.49 314.89 M 662.21 288.52 L 703.11 312.69 M 665.89 286.31 L 706.74 310.48 M 654.88 297.33 L 673.28 286.3 M 658.63 299.53 L 676.99 288.5 M 662.36 301.72 L 680.69 290.69 M 666.09 303.93 L 684.41 292.9 M 669.82 306.12 L 688.11 295.09 M 673.56 308.32 L 691.83 297.3 M 677.3 310.51 L 695.53 299.49 M 681.03 312.72 L 699.24 301.69 M 684.76 314.91 L 702.95 303.88 M 688.5 317.11 L 706.66 306.09" fill="none" stroke="#7a8082" stroke-width="0.4"/>
<path d="M 659.91 307.98 L 665.05 304.95 L 676.07 311.3 L 670.79 314.47 Z" fill="#22282a" />
<path d="M 702.21 306.47 L 706.28 304.05 L 710.36 306.47 L 706.28 308.88 Z" fill="#fbfbfb" />
<path d="M 704.77 308.28 L 707.34 306.77 L 710.06 308.28 L 707.34 309.79 Z" fill="#22282a" />
</g>
<!-- 40_meter -->
<g id="meter">
<defs><linearGradient id="mtG" x1="0" y1="0" x2="0" y2="1"><stop offset="0" stop-color="#d4d4d6"/><stop offset="1" stop-color="#b9b9bb"/></linearGradient><clipPath id="wmClip"><circle cx="136.13" cy="456.60" r="8.22"/></clipPath></defs>
<rect x="72.59" y="465.33" width="32.48" height="13.61" rx="1.03" fill="#98989a" />
<rect x="72.59" y="476.89" width="32.48" height="2.05" rx="0.77" fill="#858587" />
<circle cx="89.02" cy="424.77" r="1.41" fill="#e8e8e8" stroke="#8e8e90" stroke-width="0.6"/>
<rect x="64.76" y="456.60" width="3.08" height="4.88" rx="0.39" fill="#2e4a5f" />
<rect x="110.20" y="456.60" width="3.08" height="4.88" rx="0.39" fill="#2e4a5f" />
<rect x="66.94" y="425.03" width="44.16" height="42.88" rx="3.08" fill="#8f8f91" />
<rect x="68.48" y="426.57" width="41.08" height="39.79" rx="2.05" fill="url(#mtG)" />
<rect x="70.92" y="428.88" width="36.46" height="35.43" rx="1.54" fill="#4b3b54" />
<rect x="74.26" y="429.90" width="29.78" height="2.82" rx="0.26" fill="#d52029" />
<rect x="75.15" y="432.73" width="27.73" height="13.61" rx="0.39" fill="#cbcbcd" />
<rect x="75.15" y="432.73" width="27.73" height="1.54" rx="0.00" fill="#b4b4b6" />
<rect x="78.11" y="434.78" width="18.23" height="5.13" rx="0.39" fill="#17171a" />
<rect x="96.34" y="434.78" width="4.36" height="5.13" rx="0.26" fill="#f4f4f4" />
<rect x="79.39" y="435.81" width="2.57" height="3.08" rx="1.03" fill="#d8d8d8" />
<rect x="80.16" y="436.58" width="1.03" height="1.54" rx="0.39" fill="#17171a" />
<rect x="83.50" y="435.81" width="2.57" height="3.08" rx="1.03" fill="#d8d8d8" />
<rect x="84.27" y="436.58" width="1.03" height="1.54" rx="0.39" fill="#17171a" />
<rect x="87.61" y="435.81" width="2.57" height="3.08" rx="1.03" fill="#d8d8d8" />
<rect x="88.38" y="436.58" width="1.03" height="1.54" rx="0.39" fill="#17171a" />
<rect x="91.71" y="435.81" width="2.57" height="3.08" rx="1.03" fill="#d8d8d8" />
<rect x="92.48" y="436.58" width="1.03" height="1.54" rx="0.39" fill="#17171a" />
<rect x="81.70" y="442.48" width="14.12" height="1.03" rx="0.00" fill="#b0b0b2" />
<path d="M 73.74 449.29 Q 73.74 446.34 76.82 446.34 L 101.21 446.34 Q 104.29 446.34 104.29 449.29 L 104.29 451.98 L 73.74 451.98 Z" fill="#8b8b8d" />
<rect x="81.32" y="450.57" width="15.40" height="4.88" rx="0.51" fill="#77777a" />
<path d="M 74.26 452.5 L 78.75 450.57 M 74.26 454.42 L 79.39 452.5 M 98.65 450.96 L 103.14 452.75 M 98 452.75 L 103.52 454.55 M 74 458.92 L 74 462.12 L 86.45 462.12 M 103.78 458.92 L 103.78 462.12 L 92.23 462.12 M 75.54 458.92 L 85.81 458.92 M 92.23 458.92 L 102.75 458.92" fill="none" stroke="#e08a2c" stroke-width="0.9"/>
<circle cx="88.89" cy="455.83" r="1.67" fill="#e9e9e9"/>
<rect x="88.25" y="456.35" width="1.28" height="4.49" rx="0.00" fill="#d9d9d9" />
<circle cx="74.00" cy="456.99" r="1.54" fill="#b9b9bb"/>
<path d="M 84.91 464.31 Q 86.45 461.48 87.99 464.31 Z" fill="#f4efe6" />
<path d="M 89.66 464.31 Q 91.2 461.48 92.74 464.31 Z" fill="#f4efe6" />
<path d="M 94.28 464.31 Q 95.82 461.48 97.36 464.31 Z" fill="#f4efe6" />
<path d="M 70.66 435.17 L 76.18 431.32 M 71.43 457.63 L 106.35 429.39 M 98 461.48 L 106.99 455.71 M 71.05 452.5 L 81.96 447.36" fill="none" stroke="#ffffff" stroke-width="0.7" stroke-opacity="0.85"/>
</g>
<g id="watermeter">
<path d="M 130.99 467.26 L 141.26 467.26 L 140.75 481.77 L 132.02 481.77 Z" fill="#cda63e" />
<path d="M 132.02 478.81 L 140.75 478.81 L 140.75 481.77 L 132.02 481.77 Z" fill="#e0bb4e" />
<ellipse cx="136.13" cy="471.11" rx="1.54" ry="0.77" fill="#b38c2c" />
<ellipse cx="122.78" cy="457.12" rx="1.54" ry="1.80" fill="#dcb650" />
<ellipse cx="149.48" cy="457.12" rx="1.54" ry="1.80" fill="#dcb650" />
<path d="M 130.99 441.2 L 141.26 441.2 L 140.75 445.82 L 131.77 445.82 Z" fill="#cfa840" />
<ellipse cx="136.13" cy="443.25" rx="1.03" ry="0.90" fill="#3fa79f" />
<ellipse cx="136.13" cy="456.99" rx="12.58" ry="12.58" fill="#dcb650" />
<ellipse cx="136.13" cy="456.99" rx="10.78" ry="10.78" fill="#e8cb73" />
<ellipse cx="136.13" cy="456.60" rx="8.22" ry="8.22" fill="#fdfdfd" />
<g clip-path="url(#wmClip)"><rect x="125.60" y="447.36" width="21.82" height="7.45" rx="0.00" fill="#2a2a2e" /></g>
<rect x="131.77" y="451.47" width="7.45" height="2.57" rx="0.39" fill="#d9d9d9" />
<rect x="139.08" y="451.47" width="2.05" height="2.57" rx="0.26" fill="#e0323a" />
<ellipse cx="131.64" cy="458.27" rx="1.41" ry="1.41" fill="#9a9aa0" />
<path d="M 136.51 459.17 L 137.8 462.12 L 135.23 462.12 Z M 141.26 455.71 L 142.55 458.4 L 140.11 458.4 Z" fill="#e0323a" />
<rect x="131.12" y="415.53" width="10.27" height="3.85" rx="1.03" fill="#3fa79f" />
<ellipse cx="136.13" cy="429.39" rx="12.97" ry="12.97" fill="#40a8a0" />
</g>
<!-- 41_sensor -->
<g id="sensor">
<defs><linearGradient id="snG" x1="0" y1="0" x2="0" y2="1"><stop offset="0" stop-color="#e9e9e9"/><stop offset="0.55" stop-color="#e2e2e2"/><stop offset="1" stop-color="#d2d2d2"/></linearGradient></defs>
<path d="M 138.72 538.56 Q 149.11 540.39 154.61 548.94 M 139.58 541.98 Q 147.28 543.44 150.94 549.56 M 141.16 545.28 Q 146.05 546.5 147.89 549.8" fill="none" stroke="#3c3c3c" stroke-width="1.1" stroke-linecap="round"/>
<path d="M 63.06 547.34 Q 67.47 542.04 74.61 540.68 M 66.25 548.49 Q 70.19 544.08 77.32 543.53 M 69.85 548.7 Q 72.23 546.45 75.96 546.45" fill="none" stroke="#3a3a3a" stroke-width="1.15" stroke-linecap="round"/>
<path d="M 68.02 559.36 Q 68.02 553.59 73.59 550.87 Q 84.8 545.98 96.01 550.87 Q 101.58 553.59 101.58 559.36 L 101.58 563.44 L 68.02 563.44 Z" fill="#cecece" />
<path d="M 70.19 554.81 Q 84.8 547.13 99.4 554.81" fill="none" stroke="#6e6e6e" stroke-width="0.9" stroke-dasharray="1.7 1.5" stroke-opacity="0.7"/>
<ellipse cx="84.80" cy="566.36" rx="16.85" ry="10.05" fill="url(#snG)" />
<path d="M 70.19 570.57 Q 73.59 577.02 80.38 579.27 Q 84.8 580.49 89.21 579.27 Q 96.01 577.02 99.4 570.57 Q 84.8 578.04 70.19 570.57 Z" fill="#d3d3d3" />
<ellipse cx="70.33" cy="567.85" rx="0.54" ry="0.68" fill="#bdbdbd" />
<ellipse cx="99.54" cy="567.85" rx="0.54" ry="0.68" fill="#bdbdbd" />
<ellipse cx="91.11" cy="572.47" rx="2.04" ry="2.04" fill="#ffffff" />
<rect x="113.05" y="549.31" width="30.07" height="34.47" rx="1.71" fill="#9b9b9b" />
<rect x="115.50" y="551.76" width="25.18" height="29.58" rx="0.49" fill="#f3f3f3" />
<path d="M 116.72 566.42 L 139.58 566.42" fill="none" stroke="#333" stroke-width="0.5"/>
<text x="127.84" y="564.34" text-anchor="middle" font-size="15.5" font-weight="bold" fill="#151515" textLength="22.5" lengthAdjust="spacingAndGlyphs" font-family="'Liberation Mono',monospace" letter-spacing="-1">88.8</text>
<text x="127.84" y="579.62" text-anchor="middle" font-size="15.5" font-weight="bold" fill="#151515" textLength="22.5" lengthAdjust="spacingAndGlyphs" font-family="'Liberation Mono',monospace" letter-spacing="-1">88.8</text>
</g>
<!-- 42_ac_light -->
<g id="aircon">
<defs><linearGradient id="acG" x1="0" y1="0" x2="0" y2="1"><stop offset="0" stop-color="#ebebeb"/><stop offset="0.65" stop-color="#e6e6e6"/><stop offset="0.66" stop-color="#dcdcdc"/><stop offset="1" stop-color="#e0e0e0"/></linearGradient><radialGradient id="ltG" cx="0.5" cy="0.38" r="0.62" fx="0.5" fy="0.3"><stop offset="0" stop-color="#ffffff"/><stop offset="0.38" stop-color="#fffef8"/><stop offset="0.6" stop-color="#fcedb8"/><stop offset="0.8" stop-color="#f8da84"/><stop offset="0.93" stop-color="#f6d577" stop-opacity="0.75"/><stop offset="1" stop-color="#f4d67e" stop-opacity="0"/></radialGradient></defs>
<rect x="191.60" y="413.77" width="81.91" height="25.37" rx="2.54" fill="#cfcfcf" />
<rect x="191.24" y="413.05" width="81.55" height="25.01" rx="2.54" fill="url(#acG)" />
<rect x="199.03" y="412.69" width="64.33" height="1.81" rx="0.54" fill="#fdfdfd" />
<path d="M 191.24 429.54 L 261.55 429.54 Q 263.36 429.54 263.73 427.18 L 272.79 427.18" fill="none" stroke="#cdcdcd" stroke-width="0.5"/>
<rect x="201.75" y="431.17" width="59.44" height="4.71" rx="0.54" fill="#c1c1c1" />
<rect x="201.75" y="431.17" width="59.44" height="1.09" rx="0.36" fill="#b0b0b0" />
<rect x="194.14" y="431.35" width="5.80" height="3.99" rx="0.36" fill="#707070" />
<rect x="194.50" y="431.71" width="2.17" height="1.27" rx="0.00" fill="#d83a3a" />
<rect x="264.27" y="429.00" width="4.89" height="6.52" rx="0.54" fill="#d9da10" />
</g>
<g id="light">
<ellipse cx="232.56" cy="500.04" rx="34.43" ry="16.67" fill="url(#ltG)" />
<path d="M 203.2 486.99 Q 203.2 482.46 232.56 482.46 Q 261.91 482.46 261.91 486.99" fill="none" stroke="#808080" stroke-width="1.1"/>
<path d="M 203.92 487.35 Q 203.92 483.73 232.56 483.73 Q 261.19 483.73 261.19 487.35 Q 259.74 489.71 254.3 489.16 Q 232.56 485.18 210.81 489.16 Q 205.37 489.71 203.92 487.35 Z" fill="#fbe6b0" />
</g>
<!-- 43_heatex -->
<g id="heatex">
<defs><pattern id="hxP" width="2.2" height="2.5" patternUnits="userSpaceOnUse"><rect width="2.2" height="2.5" fill="#1c1c1c"/><path d="M0 0.3H2.2M0.3 0V2.5" stroke="#4a4a4a" stroke-width="0.45"/></pattern></defs>
<rect x="199.31" y="565.17" width="4.65" height="4.02" rx="0.85" fill="#9a9a9a" />
<rect x="200.58" y="566.33" width="2.12" height="1.69" rx="0.42" fill="#e6e6e6" />
<rect x="199.31" y="587.59" width="4.65" height="4.02" rx="0.85" fill="#9a9a9a" />
<rect x="200.58" y="588.75" width="2.12" height="1.69" rx="0.42" fill="#e6e6e6" />
<rect x="260.85" y="569.40" width="4.65" height="4.02" rx="0.85" fill="#9a9a9a" />
<rect x="262.12" y="570.56" width="2.12" height="1.69" rx="0.42" fill="#e6e6e6" />
<rect x="260.85" y="586.74" width="4.65" height="4.02" rx="0.85" fill="#9a9a9a" />
<rect x="262.12" y="587.91" width="2.12" height="1.69" rx="0.42" fill="#e6e6e6" />
<rect x="213.48" y="552.90" width="4.65" height="2.54" rx="0.53" fill="#a0a0a0" />
<path d="M 210.94 552.48 L 214.11 552.48 M 215.38 551 L 215.38 553.54 M 216.65 551 L 217.71 551 L 217.07 553.54" fill="none" stroke="#555" stroke-width="0.5"/>
<path d="M 203.54 557.13 Q 203.54 554.81 205.86 554.81 L 221.73 554.81 L 227.01 558.82 L 258.74 558.82 Q 261.07 558.82 261.07 561.15 L 261.07 597.64 Q 261.07 600.07 258.74 600.07 L 205.86 600.07 Q 203.54 600.07 203.54 597.64 Z" fill="#8d8d8d" />
<path d="M 203.54 561.68 L 261.07 561.68 L 261.07 563.05 L 203.54 563.05 Z" fill="#a4a4a4" />
<rect x="203.54" y="597.95" width="57.53" height="2.12" rx="1.27" fill="#7a7a7a" />
<rect x="204.81" y="563.05" width="55.20" height="30.46" rx="0.00" fill="url(#hxP)" />
<path d="M 211.68 563.05 V 593.41 M 218.02 563.05 V 593.41 M 230.19 563.05 V 593.41 M 242.88 563.05 V 593.41 M 253.45 563.05 V 593.41" fill="none" stroke="#2f2f2f" stroke-width="0.6"/>
<ellipse cx="207.98" cy="559.56" rx="2.33" ry="1.59" fill="#050505" />
<ellipse cx="207.45" cy="596.37" rx="2.01" ry="1.90" fill="#050505" />
<ellipse cx="211.68" cy="560.09" rx="0.42" ry="0.63" fill="#6a6a6a" />
<ellipse cx="211.68" cy="595.52" rx="0.42" ry="0.85" fill="#6a6a6a" />
<ellipse cx="220.14" cy="560.09" rx="0.42" ry="0.63" fill="#6a6a6a" />
<ellipse cx="220.14" cy="595.52" rx="0.42" ry="0.85" fill="#6a6a6a" />
<ellipse cx="231.24" cy="560.09" rx="0.42" ry="0.63" fill="#6a6a6a" />
<ellipse cx="231.24" cy="595.52" rx="0.42" ry="0.85" fill="#6a6a6a" />
<ellipse cx="241.82" cy="560.09" rx="0.42" ry="0.63" fill="#6a6a6a" />
<ellipse cx="241.82" cy="595.52" rx="0.42" ry="0.85" fill="#6a6a6a" />
<ellipse cx="252.39" cy="560.09" rx="0.42" ry="0.63" fill="#6a6a6a" />
<ellipse cx="252.39" cy="595.52" rx="0.42" ry="0.85" fill="#6a6a6a" />
<path d="M 239.69 561.53 C 234.53 564.24 231.26 570.23 233.98 576.75 C 236.16 581.64 239.96 584.36 242.95 586.81 L 248.94 586.65 L 247.3 579.47 L 245.4 581.64 C 241.59 578.93 237.79 574.58 237.24 570.23 C 236.97 566.96 238.06 563.7 239.69 561.53 Z" fill="#4180d8" />
<path d="M 249.48 586.65 C 253.56 583.28 257.36 578.93 256.55 574.03 C 255.73 569.68 251.38 564.79 247.3 561.63 L 240.78 561.25 L 242.03 568.32 L 244.04 566.53 C 248.12 569.68 251.93 573.49 252.2 577.84 C 252.36 581.1 251.11 584.36 249.48 586.65 Z" fill="#f18b0c" />
</g>
<!-- 44_battery -->
<g id="battery">
<path d="M 318.54 402.64 L 330.38 408.66 L 346.46 400.2 L 346.46 397.88 Z" fill="#dfe5dc" fill-opacity="0.9"/>
<path d="M 317.9 361.92 L 333.02 353.67 L 345.82 360.44 L 345.82 400.41 L 330.38 408.87 L 317.9 402.53 Z" fill="#ffffff" />
<path d="M 318.75 363.19 L 329.53 368.69 L 329.53 407.18 L 318.75 401.79 Z" fill="#8bcb2e" />
<path d="M 331.44 368.48 L 343.71 361.71 L 343.71 399.57 L 331.44 406.34 Z" fill="#99df35" />
<path d="M 320.02 362.24 L 333.02 355.15 L 343.92 361.07 L 331.44 367.84 Z" fill="#a9f73d" />
<path d="M 331.44 368.05 L 343.71 361.39 L 343.71 364.56 L 331.44 371.44 Z" fill="#8fd231" fill-opacity="0.6"/>
<path d="M 333.34 371.44 Q 333.34 370.17 334.61 369.53 L 339.9 367 Q 341.38 366.36 341.38 367.84 L 341.38 372.07 Q 341.38 373.34 340.11 373.98 L 334.82 376.51 Q 333.34 377.15 333.34 375.67 Z" fill="#ffffff" />
<path d="M 334.19 371.65 Q 334.19 370.8 335.14 370.38 L 339.58 368.27 Q 340.53 367.84 340.53 368.69 L 340.53 371.86 Q 340.53 372.71 339.58 373.13 L 335.14 375.35 Q 334.19 375.77 334.19 374.93 Z" fill="#6c5c57" />
<path d="M 337.99 380.74 L 335.03 389.42 L 337.36 388.99 L 335.25 398.41 L 340.53 386.56 L 338.1 386.98 L 340.11 379.69 Z" fill="#ffffff" />
<path d="M 353.12 402.64 L 364.96 408.66 L 381.04 400.2 L 381.04 397.88 Z" fill="#dfe5dc" fill-opacity="0.9"/>
<path d="M 352.48 361.92 L 367.61 353.67 L 380.4 360.44 L 380.4 400.41 L 364.96 408.87 L 352.48 402.53 Z" fill="#ffffff" />
<path d="M 353.33 363.19 L 364.12 368.69 L 364.12 407.18 L 353.33 401.79 Z" fill="#8bcb2e" />
<path d="M 366.02 368.48 L 378.29 361.71 L 378.29 399.57 L 366.02 406.34 Z" fill="#99df35" />
<path d="M 354.6 362.24 L 367.61 355.15 L 378.5 361.07 L 366.02 367.84 Z" fill="#a9f73d" />
<path d="M 366.02 368.05 L 378.29 361.39 L 378.29 364.56 L 366.02 371.44 Z" fill="#8fd231" fill-opacity="0.6"/>
<path d="M 367.92 371.44 Q 367.92 370.17 369.19 369.53 L 374.48 367 Q 375.96 366.36 375.96 367.84 L 375.96 372.07 Q 375.96 373.34 374.69 373.98 L 369.4 376.51 Q 367.92 377.15 367.92 375.67 Z" fill="#ffffff" />
<path d="M 368.77 371.65 Q 368.77 370.8 369.72 370.38 L 374.16 368.27 Q 375.11 367.84 375.11 368.69 L 375.11 371.86 Q 375.11 372.71 374.16 373.13 L 369.72 375.35 Q 368.77 375.77 368.77 374.93 Z" fill="#6c5c57" />
<path d="M 372.58 380.74 L 369.62 389.42 L 371.94 388.99 L 369.83 398.41 L 375.11 386.56 L 372.68 386.98 L 374.69 379.69 Z" fill="#ffffff" />
</g>
<!-- 45_solar -->
<g id="solar">
<defs><linearGradient id="slG" x1="0.2" y1="0" x2="0.6" y2="1"><stop offset="0" stop-color="#4f7790"/><stop offset="0.28" stop-color="#7b9bae"/><stop offset="0.5" stop-color="#6f91a6"/><stop offset="0.56" stop-color="#22506f"/><stop offset="1" stop-color="#1f4a68"/></linearGradient><linearGradient id="slP" x1="0" x2="1"><stop offset="0" stop-color="#f4f8fc"/><stop offset="1" stop-color="#cfdcea"/></linearGradient></defs>
<path d="M 343.47 475.25 L 374.88 459.54 L 376.84 461.5 L 345.43 477.21 Z" fill="#dfe5dc" fill-opacity="0.8"/>
<path d="M 342.98 491.64 L 352.3 487.22 L 361.33 491.64 L 361.33 492.92 L 352.3 497.43 L 342.98 492.92 Z" fill="#b4c0ce" />
<path d="M 342.98 491.64 L 352.3 487.22 L 361.33 491.64 L 352.3 496.25 Z" fill="#cdd8e6" />
<path d="M 350.63 467.39 L 353.97 467.39 L 354.27 490.46 Q 352.5 491.74 350.54 490.46 Z" fill="url(#slP)" />
<path d="M 329.04 458.07 L 361.14 442.07 L 373.11 458.56 L 341.31 474.56 Z" fill="#d8d3cb" />
<path d="M 330.58 458.09 L 340.02 453.41 L 351.35 468.65 L 341.97 473.3 Z" fill="url(#slG)" />
<path d="M 340.76 453.04 L 350.2 448.37 L 361.46 463.64 L 352.08 468.3 Z" fill="url(#slG)" />
<path d="M 350.94 448.01 L 360.38 443.32 L 371.57 458.64 L 362.19 463.29 Z" fill="url(#slG)" />
</g>
<!-- 46_ev -->
<g id="ev">
<path d="M 347.22 564.94 L 372.55 581.3 L 379.41 582.04 L 396.83 570.75 L 393.66 566 Z" fill="#c9d2c2" fill-opacity="0.85"/>
<path d="M 346.38 558.08 L 373.82 578.45 L 373.82 580.78 L 347.01 562.3 Z" fill="#5c9433" />
<path d="M 315.56 568.64 L 320.83 571.49 L 330.33 567.05 L 327.69 564.94 Z" fill="#d9e0d4" fill-opacity="0.8"/>
<path d="M 317.88 561.99 Q 309.22 566 309.75 572.33 Q 310.81 578.14 318.72 576.77 Q 326.11 574.97 331.39 570.75" fill="none" stroke="#777" stroke-width="1.0" stroke-linecap="round"/>
<path d="M 315.34 547.53 L 320.83 550.17 L 320.83 570.75 L 315.34 567.9 Z" fill="#38c318" />
<path d="M 320.83 550.17 L 327.69 546.79 L 327.69 567.27 L 320.83 570.75 Z" fill="#7ee23c" />
<path d="M 315.34 547.53 L 322.42 543.62 L 327.69 546.79 L 320.83 550.17 Z" fill="#4fe61f" />
<ellipse cx="324.10" cy="552.49" rx="1.37" ry="2.01" fill="#5c5a4c" transform="rotate(15 324.10 552.49)" />
<path d="M 324.63 557.34 L 322.94 561.99 L 324.21 561.78 L 323.15 565.79 L 325.9 560.51 L 324.53 560.83 L 325.48 557.34 Z" fill="#ffffff" />
<ellipse cx="317.67" cy="561.78" rx="1.16" ry="1.27" fill="#8c8c8c" />
<path d="M 329.91 563.36 L 329.07 574.44 L 331.39 574.44 L 332.65 566.53 L 334.77 576.03 L 337.19 575.5 L 334.34 563.36 Z" fill="#1f6db2" />
<path d="M 328.85 574.23 L 332.65 572.86 L 332.44 574.44 L 329.49 575.5 Z M 334.55 576.03 L 338.57 574.65 L 338.99 575.71 L 335.4 577.4 Z" fill="#2a2a2a" />
<path d="M 329.07 552.28 Q 331.39 551.01 333.5 552.49 L 333.71 563.36 L 329.28 563.68 Z" fill="#2f8a4c" />
<path d="M 332.23 553.12 Q 334.98 553.54 335.19 558.4 L 338.78 560.3 L 338.35 561.78 L 332.65 560.09 Z" fill="#f7f7f7" />
<path d="M 327.38 553.86 L 329.07 553.12 L 329.28 559.67 L 327.69 558.61 Z" fill="#f4f4f4" />
<ellipse cx="338.57" cy="560.93" rx="0.74" ry="0.74" fill="#eab08a" />
<ellipse cx="331.60" cy="549.11" rx="1.79" ry="2.11" fill="#eab08a" />
<path d="M 329.7 548.58 Q 329.8 546.15 331.92 546.47 Q 333.71 546.79 333.29 548.58 Q 331.92 547.53 330.75 549.11 Q 330.33 550.17 329.91 549.64 Z" fill="#3a2a1c" />
<path d="M 338.57 560.93 L 347.75 555.97" fill="none" stroke="#555" stroke-width="1.1" stroke-linecap="round"/>
<path d="M 345.95 549.64 Q 345.64 555.44 346.38 558.82 L 373.82 578.88 L 378.36 579.93 L 377.83 574.44 L 368.33 562.83 L 368.33 554.92 L 350.39 545.42 Z" fill="#79b944" />
<path d="M 345.95 549.64 L 350.39 544.89 L 368.33 554.39 L 368.33 563.36 L 345.95 551.75 Z" fill="#82c24a" />
<path d="M 350.39 544.68 L 366.22 534.54 L 380.79 544.89 L 368.12 554.6 Z" fill="#a2d468" />
<path d="M 354.61 543.83 L 367.28 536.97 L 369.39 538.03 L 356.72 545.1 Z M 359.89 547 L 373.61 539.61 L 375.19 540.67 L 362 548.05 Z" fill="#c0e494" fill-opacity="0.7"/>
<path d="M 368.33 554.92 L 380.15 547.21 L 382.58 553.33 L 368.54 562.83 Z" fill="#47789c" />
<path d="M 368.33 558.61 L 381.53 550.38 L 382.05 552.07 L 368.33 560.93 Z" fill="#7fa6c0" fill-opacity="0.7"/>
<path d="M 347.75 547.21 L 350.18 545.94 L 350.18 550.69 L 347.43 549.64 Z" fill="#3f6c9c" />
<path d="M 351.44 547.84 L 357.25 550.8 L 356.93 555.87 L 351.13 552.91 Z" fill="#3f6c9c" />
<path d="M 358.62 551.85 L 365.9 555.65 L 365.9 562.62 L 358.41 558.61 Z" fill="#3f6c9c" />
<path d="M 368.54 563.04 L 382.9 553.86 L 393.87 564.73 L 378.89 574.44 Z" fill="#8ecb54" />
<path d="M 372.55 562.83 L 385.22 555.97 L 389.44 559.67 L 376.78 567.05 Z" fill="#a6d972" fill-opacity="0.6"/>
<path d="M 380.58 560.93 L 379.73 564.42 L 380.79 564.2 L 380.15 565.79 L 381.84 563.36 L 380.79 563.57 L 381.21 560.93 Z" fill="#ffffff" />
<path d="M 378.04 574.65 L 393.87 564.94 L 394.19 569.69 L 378.36 579.93 Z" fill="#6aa636" />
<path d="M 380.15 574.44 L 392.08 567.27 L 392.19 569.38 L 380.36 576.77 Z" fill="#4a6a2c" />
<ellipse cx="378.68" cy="575.71" rx="0.84" ry="1.06" fill="#f2c21c" />
<ellipse cx="392.82" cy="566.84" rx="0.84" ry="1.06" fill="#f2c21c" />
<ellipse cx="347.85" cy="555.65" rx="0.84" ry="1.27" fill="#5a4a3a" />
<ellipse cx="351.65" cy="563.89" rx="3.59" ry="4.43" fill="#3a3a3a" />
<ellipse cx="351.23" cy="563.89" rx="2.32" ry="3.17" fill="#e4e4e4" />
<ellipse cx="351.23" cy="563.89" rx="0.95" ry="1.37" fill="#9a9a9a" />
<ellipse cx="369.18" cy="575.71" rx="3.80" ry="4.86" fill="#3a3a3a" />
<ellipse cx="368.75" cy="575.71" rx="2.43" ry="3.38" fill="#e4e4e4" />
<ellipse cx="368.75" cy="575.71" rx="0.95" ry="1.37" fill="#9a9a9a" />
</g>
<!-- 50_co2 -->
<g id="co2chart">
<rect x="523.41" y="416.86" width="13.41" height="45.17" rx="0.00" fill="#f7f8ee" />
<rect x="524.25" y="417.71" width="11.71" height="44.32" rx="0.00" fill="#4472c4" />
<rect x="539.95" y="429.78" width="13.16" height="32.25" rx="0.00" fill="#f7f8ee" />
<rect x="540.80" y="430.63" width="11.47" height="31.40" rx="0.00" fill="#4472c4" />
<rect x="556.01" y="441.01" width="13.41" height="21.01" rx="0.00" fill="#f7f8ee" />
<rect x="556.86" y="441.86" width="11.71" height="20.17" rx="0.00" fill="#4472c4" />
<rect x="519.06" y="461.91" width="54.71" height="1.81" rx="0.00" fill="#3b3b3b" />
<ellipse cx="571.59" cy="407.92" rx="7.49" ry="7.49" fill="#aca598" /><ellipse cx="583.67" cy="409.13" rx="8.21" ry="8.21" fill="#aca598" /><ellipse cx="593.94" cy="415.17" rx="7.49" ry="7.49" fill="#aca598" /><ellipse cx="558.91" cy="414.57" rx="7.49" ry="7.49" fill="#aca598" /><ellipse cx="555.29" cy="422.42" rx="5.43" ry="5.43" fill="#aca598" /><ellipse cx="551.30" cy="431.71" rx="5.07" ry="5.07" fill="#aca598" /><ellipse cx="561.93" cy="428.45" rx="6.64" ry="6.64" fill="#aca598" /><ellipse cx="574.01" cy="429.06" rx="6.28" ry="6.28" fill="#aca598" /><ellipse cx="586.09" cy="428.09" rx="7.49" ry="7.49" fill="#aca598" /><ellipse cx="594.54" cy="424.83" rx="6.04" ry="6.04" fill="#aca598" /><ellipse cx="572.80" cy="418.19" rx="10.87" ry="10.87" fill="#aca598" /><ellipse cx="555.89" cy="427.85" rx="4.83" ry="4.83" fill="#aca598" /><ellipse cx="586.09" cy="419.40" rx="8.45" ry="8.45" fill="#aca598" />
<ellipse cx="569.18" cy="406.47" rx="7.49" ry="7.49" fill="#cec7ba" /><ellipse cx="581.26" cy="407.68" rx="8.21" ry="8.21" fill="#cec7ba" /><ellipse cx="591.52" cy="413.72" rx="7.49" ry="7.49" fill="#cec7ba" /><ellipse cx="556.50" cy="413.12" rx="7.49" ry="7.49" fill="#cec7ba" /><ellipse cx="552.87" cy="420.97" rx="5.43" ry="5.43" fill="#cec7ba" /><ellipse cx="548.89" cy="430.27" rx="5.07" ry="5.07" fill="#cec7ba" /><ellipse cx="559.52" cy="427.00" rx="6.64" ry="6.64" fill="#cec7ba" /><ellipse cx="571.59" cy="427.61" rx="6.28" ry="6.28" fill="#cec7ba" /><ellipse cx="583.67" cy="426.64" rx="7.49" ry="7.49" fill="#cec7ba" /><ellipse cx="592.13" cy="423.38" rx="6.04" ry="6.04" fill="#cec7ba" /><ellipse cx="570.39" cy="416.74" rx="10.87" ry="10.87" fill="#cec7ba" /><ellipse cx="553.48" cy="426.40" rx="4.83" ry="4.83" fill="#cec7ba" /><ellipse cx="583.67" cy="417.95" rx="8.45" ry="8.45" fill="#cec7ba" />
<text x="556.50" y="422.78" font-size="19.4" font-weight="bold" fill="#333" stroke="#333" stroke-width="0.5" textLength="33.5" lengthAdjust="spacingAndGlyphs">CO<tspan font-size="11" dy="1.8" dx="0.8">2</tspan></text>
</g>
<!-- 51_gears -->
<g id="gears">
<defs><path id="gr1" d="M 679.34 410.76 L 682.3 410.02 L 681.24 415.3 L 678.28 416.26 L 677.75 417.42 L 677.23 418.58 L 678.71 420.8 L 675 425.46 L 673.42 423.45 L 672.57 424.08 L 671.62 424.72 L 670.77 428.63 L 666.76 429.79 L 667.39 425.99 L 666.65 425.77 L 665.91 425.56 L 663.27 428.84 L 661.15 425.88 L 663.69 422.5 L 663.48 421.54 L 663.48 420.49 L 660.52 421.23 L 661.57 415.94 L 664.53 414.99 L 665.06 413.82 L 665.59 412.66 L 664.11 410.44 L 667.81 405.79 L 669.4 407.8 L 670.25 407.16 L 671.2 406.53 L 672.04 402.61 L 676.06 401.45 L 675.43 405.26 L 676.17 405.47 L 676.91 405.68 L 679.55 402.4 L 681.67 405.36 L 679.13 408.75 L 679.34 409.7 Z"/><path id="gr1h" d="M 674.79 413.61 L 674.58 415.3 L 673.84 417 L 672.68 418.48 L 671.41 419.53 L 670.14 419.96 L 668.98 419.75 L 668.24 418.9 L 668.02 417.63 L 668.24 415.94 L 668.98 414.25 L 670.14 412.77 L 671.41 411.71 L 672.68 411.29 L 673.84 411.5 L 674.58 412.34 Z"/><clipPath id="gr1c"><use href="#gr1h"/></clipPath></defs>
<use href="#gr1" fill="#f0a630" transform="translate(-3.17 0.85)"/>
<use href="#gr1" fill="#f0a630" transform="translate(-2.54 0.68)"/>
<use href="#gr1" fill="#f0a630" transform="translate(-1.90 0.51)"/>
<use href="#gr1" fill="#f0a630" transform="translate(-1.27 0.34)"/>
<use href="#gr1" fill="#f0a630" transform="translate(-0.63 0.17)"/>
<use href="#gr1" fill="#ffc400"/>
<use href="#gr1h" fill="#f0a630"/>
<g clip-path="url(#gr1c)"><use href="#gr1h" fill="#f3f8f0" transform="translate(-2.22 0.59)"/></g>
<defs><path id="gr2" d="M 670.03 438.15 L 672.25 437.2 L 671.94 441 L 669.61 442.17 L 669.4 443.01 L 668.98 443.86 L 670.46 445.23 L 667.92 448.93 L 666.44 447.77 L 665.8 448.41 L 665.17 449.04 L 664.85 451.79 L 661.79 453.27 L 661.89 450.52 L 661.26 450.52 L 660.73 450.52 L 658.93 453.16 L 656.92 451.47 L 658.61 448.72 L 658.4 448.09 L 658.19 447.45 L 655.97 448.41 L 656.29 444.6 L 658.61 443.43 L 658.82 442.59 L 659.25 441.74 L 657.77 440.37 L 660.3 436.67 L 661.79 437.83 L 662.42 437.2 L 663.05 436.56 L 663.37 433.81 L 666.44 432.33 L 666.33 435.08 L 666.97 435.08 L 667.5 435.08 L 669.29 432.44 L 671.3 434.13 L 669.61 436.88 L 669.82 437.51 Z"/><path id="gr2h" d="M 666.65 441.32 L 666.44 442.59 L 665.91 443.86 L 665.06 444.92 L 664.11 445.76 L 663.16 446.08 L 662.31 445.97 L 661.79 445.34 L 661.57 444.28 L 661.79 443.01 L 662.31 441.74 L 663.16 440.69 L 664.11 439.84 L 665.06 439.52 L 665.91 439.63 L 666.44 440.26 Z"/><clipPath id="gr2c"><use href="#gr2h"/></clipPath></defs>
<use href="#gr2" fill="#074a73" transform="translate(-2.33 0.53)"/>
<use href="#gr2" fill="#074a73" transform="translate(-1.86 0.42)"/>
<use href="#gr2" fill="#074a73" transform="translate(-1.40 0.32)"/>
<use href="#gr2" fill="#074a73" transform="translate(-0.93 0.21)"/>
<use href="#gr2" fill="#074a73" transform="translate(-0.47 0.11)"/>
<use href="#gr2" fill="#0b5a8b"/>
<use href="#gr2h" fill="#074a73"/>
<g clip-path="url(#gr2c)"><use href="#gr2h" fill="#f3f8f0" transform="translate(-1.63 0.37)"/></g>
<defs><path id="gr3" d="M 702.92 423.24 L 706.94 422.5 L 705.25 430.22 L 701.02 431.27 L 700.28 432.97 L 699.43 434.55 L 701.34 437.94 L 696.05 444.28 L 693.93 441.11 L 692.66 442.06 L 691.4 442.8 L 690.02 448.41 L 684.31 449.67 L 685.47 444.18 L 684.42 443.86 L 683.46 443.43 L 679.55 447.88 L 676.8 443.33 L 680.61 438.68 L 680.4 437.3 L 680.29 435.93 L 676.27 436.67 L 677.97 428.95 L 682.2 427.89 L 682.94 426.2 L 683.78 424.61 L 681.88 421.23 L 687.17 414.88 L 689.28 418.05 L 690.55 417.1 L 691.82 416.36 L 693.19 410.76 L 698.9 409.49 L 697.74 414.99 L 698.8 415.3 L 699.75 415.73 L 703.66 411.29 L 706.41 415.83 L 702.61 420.49 L 702.82 421.86 Z"/><path id="gr3h" d="M 696.37 426.83 L 696.05 429.16 L 694.99 431.59 L 693.41 433.71 L 691.61 435.19 L 689.81 435.82 L 688.22 435.5 L 687.17 434.34 L 686.85 432.33 L 687.17 430 L 688.22 427.57 L 689.81 425.46 L 691.61 423.98 L 693.41 423.34 L 694.99 423.66 L 696.05 424.82 Z"/><clipPath id="gr3c"><use href="#gr3h"/></clipPath></defs>
<use href="#gr3" fill="#df4949" transform="translate(-3.38 0.85)"/>
<use href="#gr3" fill="#df4949" transform="translate(-2.71 0.68)"/>
<use href="#gr3" fill="#df4949" transform="translate(-2.03 0.51)"/>
<use href="#gr3" fill="#df4949" transform="translate(-1.35 0.34)"/>
<use href="#gr3" fill="#df4949" transform="translate(-0.68 0.17)"/>
<use href="#gr3" fill="#ff7565"/>
<use href="#gr3h" fill="#df4949"/>
<g clip-path="url(#gr3c)"><use href="#gr3h" fill="#f3f8f0" transform="translate(-2.37 0.59)"/></g>
</g>
<!-- 52_tablet -->
<g id="tablet">
<defs><clipPath id="tbC"><rect x="768.84" y="401.23" width="65.40" height="45.34" rx="3.85"/></clipPath></defs>
<rect x="768.84" y="401.23" width="65.40" height="45.34" rx="3.85" fill="#4b4549" />
<g clip-path="url(#tbC)"><path d="M 768.84 401.23 L 832.55 401.23 L 768.84 438.07 Z" fill="#7d777b" /><path d="M 768.84 401.23 L 834.25 401.23 L 834.25 404.98 L 768.84 404.98 Z" fill="#6a6468" fill-opacity="0.5"/></g>
<rect x="778.70" y="404.98" width="51.35" height="38.20" rx="0.00" fill="#a6dce4" />
<path d="M 791.74 404.98 L 820.08 404.98 L 820.08 409.74 L 791.74 425.61 Z" fill="#c2e8ed" />
<rect x="778.70" y="404.98" width="12.47" height="12.70" rx="0.00" fill="#a5c93d" />
<rect x="778.70" y="417.67" width="12.47" height="12.47" rx="0.00" fill="#ff7f0f" />
<rect x="778.70" y="430.14" width="12.47" height="13.04" rx="0.00" fill="#f5c500" />
<path d="M 784.94 407.24 Q 788.34 412 787.77 413.7 Q 787.2 416.31 784.94 416.31 Q 782.44 416.31 782.1 413.7 Q 781.76 412 784.94 407.24 Z" fill="#ffffff" />
<ellipse cx="784.94" cy="422.77" rx="2.04" ry="2.27" fill="#ffffff" />
<rect x="783.92" y="424.70" width="2.04" height="2.49" rx="0.34" fill="#ffffff" />
<path d="M 784.94 419.03 V 420.16 M 781.54 423.11 H 780.18 M 788.34 423.11 H 789.7 M 782.22 420.5 L 781.31 419.6 M 787.66 420.5 L 788.56 419.6" fill="none" stroke="#ffe1c4" stroke-width="0.5"/>
<rect x="782.22" y="436.03" width="5.67" height="4.76" rx="0.45" fill="#fff6d8" />
<path d="M 783.35 436.03 V 434.67 Q 783.35 432.63 785.05 432.63 Q 786.75 432.63 786.75 434.67 V 436.03" fill="none" stroke="#fff6d8" stroke-width="0.9"/>
<rect x="820.08" y="404.98" width="9.98" height="38.20" rx="0.00" fill="#1b9bc5" />
<path d="M 820.08 414.84 H 830.05 M 820.08 424.7 H 830.05" fill="none" stroke="#7fd0e6" stroke-width="0.5"/>
<path d="M 822.12 411.78 L 825.18 408.38 L 828.24 411.78 M 823.25 416.76 L 826.88 419.71 L 823.25 422.66" fill="none" stroke="#ffffff" stroke-width="0.7"/>
<path d="M 799.11 431.27 V 422.2 H 796.27 L 809.88 412 L 816.11 422.2 H 813.28" fill="none" stroke="#ffffff" stroke-width="0.6" stroke-linejoin="round"/>
<rect x="771.90" y="419.71" width="2.95" height="8.61" rx="1.47" fill="#d9d9d9" />
<path d="M 801.03 410.87 Q 801.03 407.47 804.66 407.47 Q 808.29 407.47 808.29 410.87 L 808.29 424.7 Q 810.44 422.77 813.28 423.56 Q 815.32 424.25 815.54 426.17 Q 817.81 424.7 820.3 425.83 Q 822.12 426.74 822.12 428.78 Q 824.61 427.65 827.1 429.01 Q 829.15 430.37 828.92 433.54 L 828.01 444.88 Q 827.1 451.68 823.7 456.78 L 823.48 466.19 L 803.98 463.01 L 803.64 456.78 Q 798.54 448.28 797.18 442.61 Q 796.5 438.07 798.54 433.54 Q 799.67 431.27 801.03 431.05 Z" fill="#fedcc5" />
<path d="M 808.29 424.7 L 808.29 429.01 M 815.54 426.51 L 815.54 429.57 M 822.12 429.01 L 822.12 431.84" fill="none" stroke="#f4c4a8" stroke-width="0.5"/>
</g>
</svg>
</body>
</html>
